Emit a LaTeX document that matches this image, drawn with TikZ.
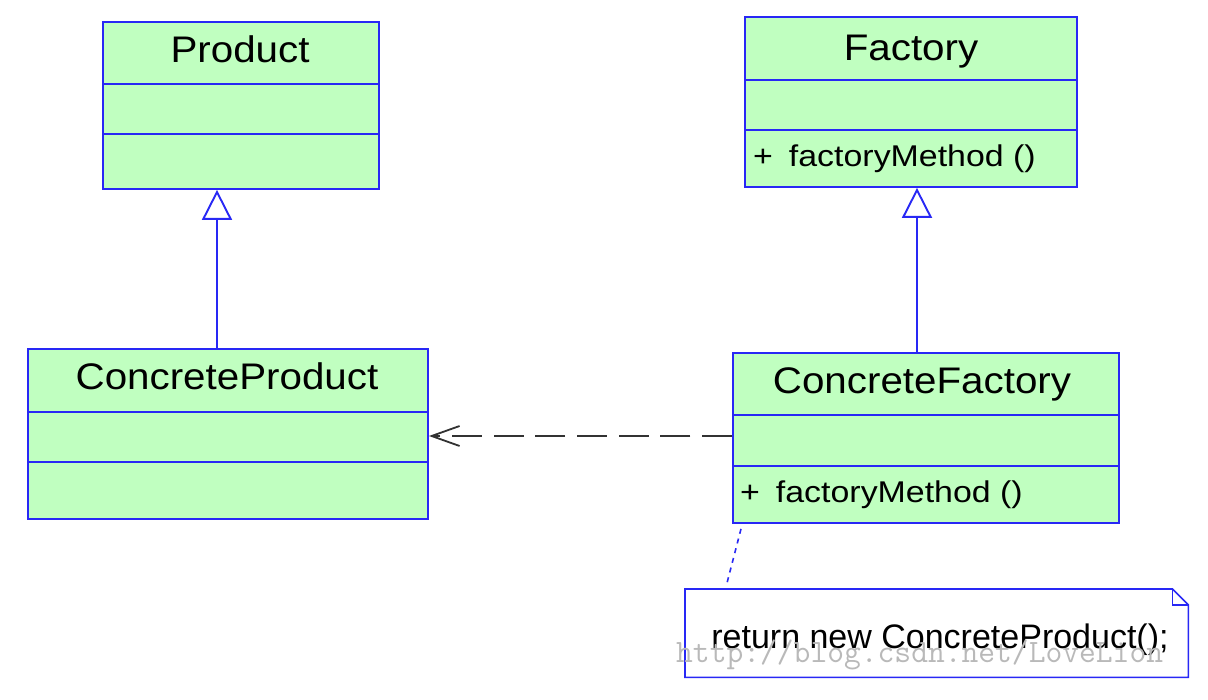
\documentclass[tikz,border=0pt]{standalone}
\usepackage{fontspec}
\setmainfont{Liberation Sans}
\newfontfamily\titlefont[FakeStretch=1.09]{Liberation Sans}
\newfontfamily\methfont[FakeStretch=1.13]{Liberation Sans}
\usetikzlibrary{arrows.meta,calc}
\definecolor{umlblue}{RGB}{40,40,245}
\definecolor{umlfill}{RGB}{192,255,192}
\definecolor{deparrow}{RGB}{50,50,50}
\definecolor{wmark}{RGB}{185,185,185}
\begin{document}
\begin{tikzpicture}[x=1pt,y=-1pt,
 classbox/.style={draw=umlblue,fill=umlfill,line width=1.9pt,inner sep=0,anchor=north west},
 divider/.style={draw=umlblue,line width=1.7pt},
 classname/.style={font=\titlefont\fontsize{37}{40}\selectfont,anchor=base,inner sep=0},
 method/.style={font=\methfont\fontsize{30}{34}\selectfont,anchor=base west,inner sep=0},
 inherit/.style={draw=umlblue,line width=1.9pt,-{Triangle[open,length=30pt,width=30pt]}},
 depend/.style={draw=deparrow,line width=1.8pt,dash pattern=on 30pt off 11.7pt,-{Straight Barb[length=28pt,width=20pt]}},
 notebox/.style={draw=umlblue,line width=1.6pt},
 notelink/.style={draw=umlblue,line width=1.6pt,dash pattern=on 5pt off 5pt},
]
\useasboundingbox[fill=white] (0,0) rectangle (1208,700);

% class boxes
\node[classbox,minimum width=276pt,minimum height=167pt] (product) at (102,21) {};
\node[classbox,minimum width=332pt,minimum height=170pt] (factory) at (744,16) {};
\node[classbox,minimum width=400pt,minimum height=170pt] (cproduct) at (27,348) {};
\node[classbox,minimum width=386pt,minimum height=170pt] (cfactory) at (732,352) {};

% compartments
\draw[divider] (product.west |- 0,84) -- (product.east |- 0,84);
\draw[divider] (product.west |- 0,134) -- (product.east |- 0,134);
\draw[divider] (factory.west |- 0,80) -- (factory.east |- 0,80);
\draw[divider] (factory.west |- 0,130) -- (factory.east |- 0,130);
\draw[divider] (cproduct.west |- 0,412) -- (cproduct.east |- 0,412);
\draw[divider] (cproduct.west |- 0,462) -- (cproduct.east |- 0,462);
\draw[divider] (cfactory.west |- 0,415) -- (cfactory.east |- 0,415);
\draw[divider] (cfactory.west |- 0,466) -- (cfactory.east |- 0,466);

% names and operations
\node[classname] (productname) at (240,63) {Product};
\node[classname] (factoryname) at (911,61) {Factory};
\node[classname] (cproductname) at (227,390) {ConcreteProduct};
\node[classname] (cfactoryname) at (922,394) {ConcreteFactory};
\node[method] (factorymeth) at (753,167) {+\hspace{16pt}factoryMethod ()};
\node[method] (cfactorymeth) at (740,503) {+\hspace{16pt}factoryMethod ()};

% relations
\draw[inherit] (cproduct.north -| 217,0) -- (product.south -| 217,0);
\draw[inherit] (cfactory.north -| 917,0) -- (factory.south -| 917,0);
\draw[depend] (cfactory.west |- 0,436) -- (cproduct.east |- 0,436);

% note
\node[inner sep=0,minimum width=503pt,minimum height=88pt,anchor=north west] (note) at (685,589) {};
\draw[notebox,fill=white] (note.north west) -- ($(note.north east)+(-16,0)$) -- ($(note.north east)+(0,16)$) -- (note.south east) -- (note.south west) -- cycle;
\draw[notebox] ($(note.north east)+(-16,0)$) -- ($(note.north east)+(-16,16)$) -- ($(note.north east)+(0,16)$);
\node[font=\fontsize{34}{38}\selectfont,anchor=base,inner sep=0] (notetext) at (940,648) {return new ConcreteProduct();};
\draw[notelink] ($(cfactory.south west)+(9,5)$) -- ($(note.north west)+(42,-6)$);

% watermark
\node[font=\ttfamily\fontsize{32.6}{34}\selectfont,text=wmark,anchor=base west,inner sep=0] (wm) at (676,662) {http://blog.csdn.net/LoveLion};
\end{tikzpicture}
\end{document}
